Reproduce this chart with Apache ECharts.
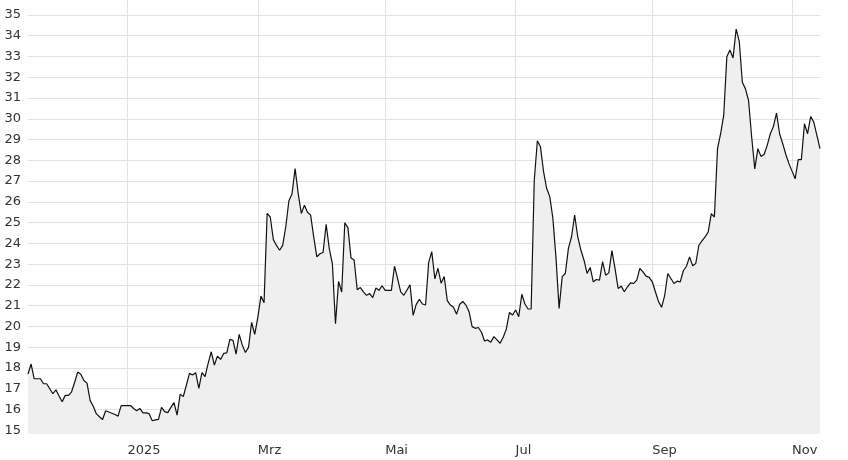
<!DOCTYPE html>
<html><head><meta charset="utf-8">
<script src="https://cdn.jsdelivr.net/npm/echarts@6/dist/echarts.min.js"></script>
<style>html,body{margin:0;padding:0;background:#fff}#c{width:848px;height:460px}</style>
</head><body><div id="c"></div>
<script>
// trading-day calendar (Xetra)
const startDate = '2024-11-12';
const endDate = '2025-11-14';
const holidays = ['2024-12-24','2024-12-25','2024-12-26','2024-12-31','2025-01-01','2025-04-18','2025-04-21','2025-05-01'];
const monthNames = ['Jan','Feb','Mrz','Apr','Mai','Jun','Jul','Aug','Sep','Okt','Nov','Dez'];
const labelMonths = [0, 2, 4, 6, 8, 10];
const yTicks = [15,16,17,18,19,20,21,22,23,24,25,26,27,28,29,30,31,32,33,34,35];

// closing prices, one per trading day
const prices = [
17.71,18.19,17.48,17.48,17.48,17.24,17.24,17.0,16.76,16.95,
16.65,16.37,16.68,16.68,16.84,17.3,17.8,17.7,17.4,17.27,
16.44,16.16,15.8,15.65,15.52,15.94,15.88,15.82,15.76,15.68,
16.19,16.19,16.19,16.19,16.05,15.94,16.05,15.84,15.84,15.8,
15.46,15.5,15.52,16.1,15.9,15.85,16.1,16.33,15.73,16.74,
16.62,17.18,17.74,17.66,17.77,17.02,17.77,17.58,18.22,18.78,
18.14,18.57,18.41,18.7,18.73,19.38,19.33,18.67,19.62,19.1,
18.75,18.99,20.2,19.62,20.44,21.46,21.14,25.45,25.27,24.18,
23.9,23.67,23.9,24.8,26.05,26.38,27.6,26.4,25.44,25.84,
25.5,25.36,24.3,23.35,23.5,23.56,24.92,23.75,23.03,20.13,
22.17,21.66,24.99,24.76,23.3,23.2,21.77,21.87,21.66,21.5,
21.58,21.39,21.85,21.74,21.96,21.74,21.74,21.74,22.9,22.3,
21.66,21.5,21.75,22.01,20.53,21.06,21.3,21.08,21.03,23.07,
23.6,22.29,22.8,22.08,22.4,21.24,21.03,20.92,20.59,21.07,
21.2,21.03,20.71,19.99,19.91,19.95,19.72,19.3,19.35,19.24,
19.51,19.35,19.19,19.48,19.87,20.67,20.55,20.79,20.47,21.55,
21.08,20.84,20.84,27.04,28.94,28.65,27.45,26.64,26.25,25.2,
23.3,20.87,22.4,22.55,23.76,24.32,25.36,24.32,23.68,23.2,
22.55,22.84,22.15,22.26,22.23,23.12,22.47,22.58,23.65,22.8,
21.83,21.94,21.67,21.91,22.1,22.07,22.23,22.8,22.63,22.42,
22.36,22.15,21.67,21.2,20.92,21.5,22.55,22.31,22.07,22.18,
22.15,22.68,22.9,23.35,22.92,23.03,23.91,24.12,24.31,24.55,
25.43,25.27,28.56,29.28,30.16,32.99,33.31,32.93,34.32,33.73,
31.76,31.44,30.88,29.12,27.59,28.56,28.19,28.28,28.72,29.28,
29.63,30.27,29.28,28.8,28.28,27.84,27.48,27.11,28.03,28.03,
29.76,29.28,30.11,29.84,29.2,28.56
];

function tradingDays(a, b, skip) {
  const out = [];
  let t = Date.parse(a + 'T00:00:00Z');
  const end = Date.parse(b + 'T00:00:00Z');
  while (t <= end) {
    const d = new Date(t);
    const wd = d.getUTCDay();
    const s = d.toISOString().slice(0, 10);
    if (wd !== 0 && wd !== 6 && skip.indexOf(s) < 0) out.push(s);
    t += 86400000;
  }
  return out;
}
const dates = tradingDays(startDate, endDate, holidays);

function isMonthStart(idx) {
  if (idx <= 0) return false;
  const m = parseInt(dates[idx].slice(5, 7), 10) - 1;
  return dates[idx].slice(5, 7) !== dates[idx - 1].slice(5, 7) && labelMonths.indexOf(m) >= 0;
}

const chart = echarts.init(document.getElementById('c'), null, {renderer: 'canvas'});
chart.setOption({
  animation: false,
  backgroundColor: '#ffffff',
  grid: {left: 28, right: 28, top: 0, bottom: 26, containLabel: false},
  xAxis: {
    type: 'category',
    data: dates,
    boundaryGap: false,
    axisLine: {show: false},
    axisTick: {show: false},
    axisLabel: {
      interval: (i) => isMonthStart(i),
      align: 'left',
      margin: 10,
      color: '#333',
      fontFamily: 'DejaVu Sans',
      fontSize: 13,
      formatter: (v) => {
        const m = parseInt(v.slice(5, 7), 10) - 1;
        return m === 0 ? v.slice(0, 4) : monthNames[m];
      }
    },
    splitLine: {show: true, interval: (i) => isMonthStart(i), lineStyle: {color: '#e2e2e2', width: 1}}
  },
  yAxis: {
    type: 'value',
    min: 14.82,
    max: 35.72,
    axisLine: {show: false},
    axisTick: {show: false, customValues: yTicks},
    axisLabel: {
      customValues: yTicks,
      margin: 7,
      color: '#333',
      fontFamily: 'DejaVu Sans',
      fontSize: 13
    },
    splitLine: {show: true, lineStyle: {color: '#e2e2e2', width: 1}}
  },
  series: [{
    type: 'line',
    data: prices,
    symbol: 'none',
    lineStyle: {color: '#111', width: 1.2},
    areaStyle: {color: '#efefef', opacity: 1},
    z: 3
  }]
});
</script></body></html>
